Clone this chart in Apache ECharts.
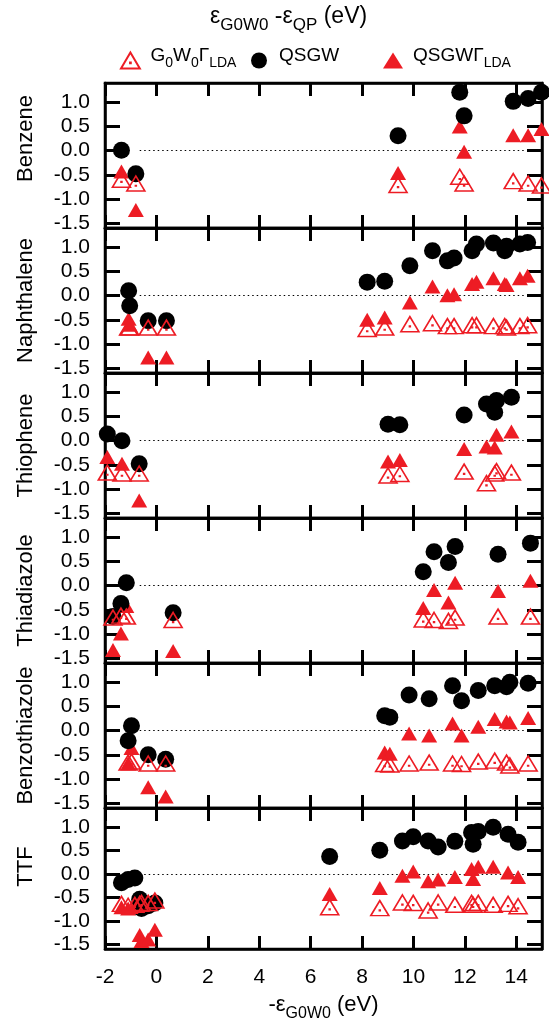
<!DOCTYPE html>
<html><head><meta charset="utf-8">
<script src="https://cdn.jsdelivr.net/npm/echarts@6/dist/echarts.min.js"></script>
<style>html,body{margin:0;padding:0;background:#fff}#c{width:549px;height:1023px}</style>
</head><body><div id="c"></div>
<script>
// ---------------- data ----------------
const molecules = ['Benzene', 'Naphthalene', 'Thiophene', 'Thiadiazole', 'Benzothiazole', 'TTF'];
const xTicks = [-2, 0, 2, 4, 6, 8, 10, 12, 14];
const yTicks = [-1.5, -1.0, -0.5, 0.0, 0.5, 1.0];
const zeroLine = [-0.65, 14.4];

const benzeneX     = [-1.36, -0.80, 9.40, 11.80, 11.97, 13.88, 14.46, 14.98];
const benzeneG0W0G = [-0.60, -0.68, -0.71, -0.54, -0.68, -0.63, -0.68, -0.72];
const benzeneQSGW  = [0.01, -0.48, 0.31, 1.21, 0.72, 1.02, 1.08, 1.21];
const benzeneQSGWG = [-0.43, -1.23, -0.46, 0.50, -0.02, 0.32, 0.32, 0.45];

const naphX     = [-1.08, -1.04, -0.32, 0.39, 8.20, 8.88, 9.86, 10.74, 11.32, 11.58, 12.28, 12.45, 13.11, 13.55, 13.62, 14.14, 14.44];
const naphG0W0G = [-0.66, -0.66, -0.66, -0.66, -0.69, -0.66, -0.59, -0.57, -0.63, -0.63, -0.61, -0.61, -0.63, -0.63, -0.66, -0.63, -0.61];
const naphQSGW  = [0.10, -0.21, -0.52, -0.52, 0.28, 0.30, 0.62, 0.93, 0.72, 0.78, 0.93, 1.07, 1.09, 0.93, 1.02, 1.07, 1.10];
const naphQSGWG = [-0.48, -0.60, -1.28, -1.28, -0.50, -0.45, -0.14, 0.19, 0.01, 0.03, 0.24, 0.29, 0.36, 0.24, 0.22, 0.36, 0.41];

const thioX     = [-1.91, -1.34, -0.67, 9.01, 9.47, 11.97, 12.84, 13.16, 13.23, 13.81];
const thioG0W0G = [-0.66, -0.68, -0.68, -0.72, -0.69, -0.64, -0.88, -0.68, -0.63, -0.66];
const thioQSGW  = [0.14, 0.00, -0.48, 0.34, 0.33, 0.53, 0.76, 0.59, 0.83, 0.90];
const thioQSGWG = [-0.34, -0.48, -1.24, -0.43, -0.40, -0.17, -0.12, -0.14, 0.12, 0.19];

const thiadX     = [-1.69, -1.38, -1.17, 0.65, 10.38, 10.80, 11.36, 11.62, 13.29, 14.55];
const thiadG0W0G = [-0.66, -0.62, -0.64, -0.71, -0.70, -0.71, -0.73, -0.66, -0.64, -0.64];
const thiadQSGW  = [-0.64, -0.37, 0.06, -0.56, 0.29, 0.70, 0.48, 0.81, 0.65, 0.88];
const thiadQSGWG = [-1.33, -0.99, -0.42, -1.35, -0.46, -0.09, -0.35, 0.06, -0.11, 0.10];

const bthzX     = [-1.10, -0.97, -0.32, 0.36, 8.88, 9.08, 9.83, 10.61, 11.52, 11.87, 12.52, 13.16, 13.62, 13.75, 14.46];
const bthzG0W0G = [-0.66, -0.64, -0.68, -0.68, -0.69, -0.70, -0.68, -0.66, -0.68, -0.69, -0.64, -0.62, -0.66, -0.72, -0.68];
const bthzQSGW  = [-0.21, 0.10, -0.50, -0.59, 0.31, 0.28, 0.74, 0.66, 0.93, 0.62, 0.83, 0.93, 0.91, 1.00, 0.98];
const bthzQSGWG = [-0.68, -0.36, -1.17, -1.36, -0.45, -0.48, -0.06, -0.10, 0.15, -0.10, 0.08, 0.24, 0.19, 0.17, 0.26];

const ttfX     = [-1.36, -1.10, -0.84, -0.65, -0.58, -0.32, -0.06, 6.74, 8.69, 9.57, 9.99, 10.57, 10.96, 11.61, 12.26, 12.32, 12.52, 13.10, 13.68, 14.07];
const ttfG0W0G = [-0.64, -0.68, -0.66, -0.64, -0.62, -0.62, -0.57, -0.71, -0.73, -0.61, -0.62, -0.78, -0.61, -0.66, -0.62, -0.66, -0.62, -0.66, -0.64, -0.69];
const ttfQSGW  = [-0.19, -0.12, -0.09, -0.54, -0.74, -0.68, -0.62, 0.37, 0.50, 0.70, 0.79, 0.70, 0.57, 0.69, 0.88, 0.63, 0.90, 0.99, 0.84, 0.67];
const ttfQSGWG = [-0.71, -0.74, -0.68, -1.30, -1.43, -1.40, -1.19, -0.43, -0.30, -0.04, 0.05, -0.16, -0.12, -0.07, 0.10, -0.11, 0.15, 0.15, 0.03, -0.07];

const panels = [
  [benzeneX, benzeneG0W0G, benzeneQSGW, benzeneQSGWG],
  [naphX, naphG0W0G, naphQSGW, naphQSGWG],
  [thioX, thioG0W0G, thioQSGW, thioQSGWG],
  [thiadX, thiadG0W0G, thiadQSGW, thiadQSGWG],
  [bthzX, bthzG0W0G, bthzQSGW, bthzQSGWG],
  [ttfX, ttfG0W0G, ttfQSGW, ttfQSGWG]
];

// ---------------- layout / style ----------------
const FONT = 'Liberation Sans, Arial, sans-serif';
const RED = '#ed1c24';
const L = 105, R = 7, TOP0 = 83, H = 145;
const nameShift = [34, 0, 0, 0, 0, 24];
const N1 = 'G0W0ΓLDA', N2 = 'QSGW', N3 = 'QSGWΓLDA';
const openTri = 'path://M10,0 L20,17 L0,17 Z M9.6,10.6 L10.4,10.6 L10.4,11.4 L9.6,11.4 Z';

function rich(n, s, off) {
  return {
    n: {fontSize: n, fontFamily: FONT, fontWeight: 'normal', color: '#000', verticalAlign: 'bottom', padding: [0, 0, off, 0], lineHeight: n},
    s: {fontSize: s, fontFamily: FONT, fontWeight: 'normal', color: '#000', verticalAlign: 'bottom', lineHeight: s}
  };
}
const legendText = {
  [N1]: '{n|G}{s|0}{n|W}{s|0}{n|Γ}{s|LDA}',
  [N2]: '{n|QSGW}',
  [N3]: '{n|QSGWΓ}{s|LDA}'
};

const grid = [], xAxis = [], yAxis = [], series = [];
panels.forEach((p, i) => {
  const [xs, g0, qs, qg] = p;
  grid.push({left: L, right: R, top: TOP0 + i * H, height: H, show: true,
    borderColor: '#000', borderWidth: 2.5, backgroundColor: 'transparent'});
  const last = i === panels.length - 1;
  const xBase = {gridIndex: i, type: 'value', min: -2, max: 15,
    axisLine: {show: true, onZero: false, lineStyle: {color: '#000', width: 2.5}},
    axisTick: {show: true, inside: true, length: 13, customValues: xTicks, lineStyle: {color: '#000', width: 3}},
    splitLine: {show: false}};
  xAxis.push(Object.assign({}, xBase, {position: 'bottom',
    axisLabel: {show: last, customValues: xTicks, margin: 18, fontSize: 21, fontFamily: FONT, color: '#000'},
    name: last ? '{n|-ε}{s|G0W0}{n| (eV)}' : '', nameLocation: 'middle', nameGap: 51,
    nameTextStyle: {rich: rich(22, 16, 6)}}));
  xAxis.push(Object.assign({}, xBase, {position: 'top', axisLabel: {show: false}}));
  const yBase = {gridIndex: i, type: 'value', min: -1.6, max: 1.4,
    axisLine: {show: true, onZero: false, lineStyle: {color: '#000', width: 2.5}},
    axisTick: {show: true, inside: true, length: 15, customValues: yTicks, lineStyle: {color: '#000', width: 3}},
    splitLine: {show: false}};
  yAxis.push(Object.assign({}, yBase, {position: 'left',
    axisLabel: {show: true, customValues: yTicks, margin: 15, fontSize: 21, fontFamily: FONT, color: '#000',
      formatter: v => v.toFixed(1)},
    name: molecules[i], nameLocation: 'middle', nameRotate: 90, nameGap: 68,
    nameTextStyle: {fontSize: 22, fontFamily: FONT, color: '#000', padding: [0, 0, 0, nameShift[i]]}}));
  yAxis.push(Object.assign({}, yBase, {position: 'right', axisLabel: {show: false}}));

  const xi = 2 * i, yi = 2 * i;
  series.push({name: N3, type: 'scatter', xAxisIndex: xi, yAxisIndex: yi, z: 2,
    symbol: 'triangle', symbolSize: [16, 14], itemStyle: {color: RED, opacity: 1},
    data: xs.map((x, k) => [x, qg[k]])});
  series.push({name: N2, type: 'scatter', xAxisIndex: xi, yAxisIndex: yi, z: 3,
    symbol: 'circle', symbolSize: 17, itemStyle: {color: '#000', opacity: 1},
    data: xs.map((x, k) => [x, qs[k]]),
    markLine: {silent: true, symbol: 'none', label: {show: false}, z: 1,
      lineStyle: {color: '#000', width: 1.2, type: [1.5, 3], opacity: 1},
      data: [[{coord: [zeroLine[0], 0]}, {coord: [zeroLine[1], 0]}]]}});
  series.push({name: N1, type: 'scatter', xAxisIndex: xi, yAxisIndex: yi, z: 4,
    symbol: openTri, symbolSize: [18, 15],
    itemStyle: {color: 'rgba(0,0,0,0)', borderColor: RED, borderWidth: 1.6, opacity: 1},
    data: xs.map((x, k) => [x, g0[k]])});
});

const legBase = {top: 41, itemWidth: 20, itemHeight: 16, selectedMode: false,
  formatter: n => legendText[n], textStyle: {rich: rich(19, 14, 5), padding: [0, 0, 0, 5]}};

const option = {
  animation: false,
  backgroundColor: '#fff',
  title: {text: '{n|ε}{s|G0W0}{n| -ε}{s|QP}{n| (eV)}', left: 205, top: 6,
    textStyle: {fontWeight: 'normal', rich: rich(23, 17, 6)}},
  legend: [
    Object.assign({}, legBase, {left: 115, data: [N1]}),
    Object.assign({}, legBase, {left: 246, data: [N2]}),
    Object.assign({}, legBase, {left: 378, data: [N3]})
  ],
  grid, xAxis, yAxis, series
};
const chart = echarts.init(document.getElementById('c'), null, {renderer: 'canvas'});
chart.setOption(option);
</script></body></html>
